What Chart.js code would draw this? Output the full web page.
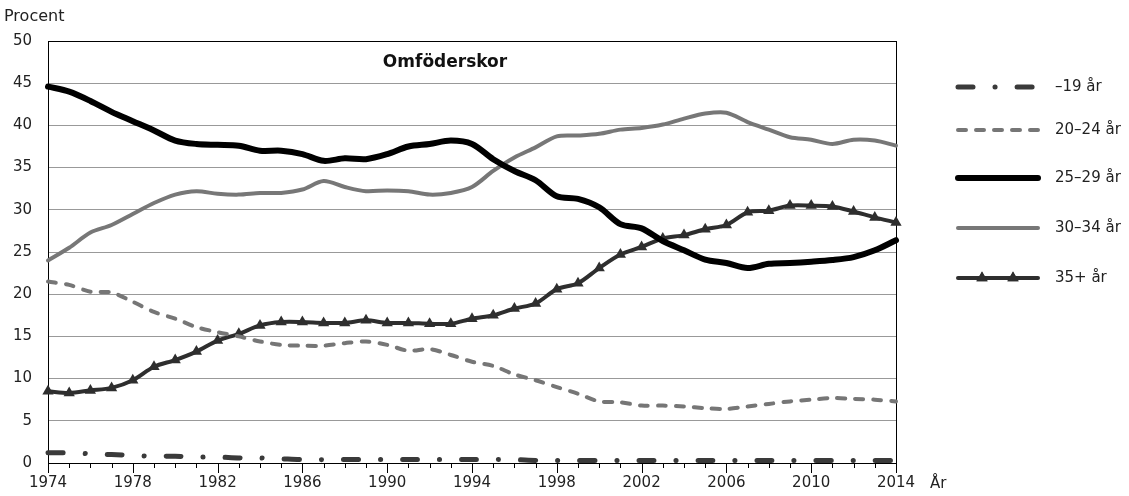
<!DOCTYPE html>
<html>
<head>
<meta charset="utf-8">
<script src="https://cdn.jsdelivr.net/npm/chart.js@4/dist/chart.umd.min.js"></script>
<style>
  html, body { margin: 0; padding: 0; background: #fff; }
</style>
</head>
<body>
<canvas id="chart" width="1129" height="496"></canvas>
<script>
// ---------------- DATA ----------------
const years = [
    "1974", "1975", "1976", "1977", "1978", "1979", "1980", "1981", "1982", "1983",
    "1984", "1985", "1986", "1987", "1988", "1989", "1990", "1991", "1992", "1993",
    "1994", "1995", "1996", "1997", "1998", "1999", "2000", "2001", "2002", "2003",
    "2004", "2005", "2006", "2007", "2008", "2009", "2010", "2011", "2012", "2013", "2014"
];

const under19 = [
    1.2, 1.2, 1.1, 1.0, 0.9, 0.8, 0.8, 0.7, 0.7, 0.6,
    0.6, 0.5, 0.4, 0.4, 0.4, 0.4, 0.4, 0.4, 0.4, 0.4,
    0.4, 0.4, 0.4, 0.3, 0.3, 0.3, 0.3, 0.3, 0.3, 0.3,
    0.3, 0.3, 0.3, 0.3, 0.3, 0.3, 0.3, 0.3, 0.3, 0.3, 0.3
];

const age20_24 = [
    21.5, 21.1, 20.3, 20.2, 19.1, 17.9, 17.1, 16.1, 15.5, 15.0,
    14.4, 14.0, 13.9, 13.9, 14.2, 14.4, 14.0, 13.3, 13.5, 12.8,
    12.0, 11.5, 10.5, 9.8, 9.0, 8.2, 7.3, 7.2, 6.8, 6.8,
    6.7, 6.5, 6.4, 6.7, 7.0, 7.3, 7.5, 7.7, 7.6, 7.5, 7.3
];

const age25_29 = [
    44.6, 44.0, 42.9, 41.6, 40.5, 39.4, 38.2, 37.8, 37.7, 37.6,
    37.0, 37.0, 36.6, 35.8, 36.1, 36.0, 36.6, 37.5, 37.8, 38.2,
    37.8, 36.0, 34.6, 33.5, 31.6, 31.3, 30.3, 28.3, 27.8, 26.3,
    25.2, 24.1, 23.7, 23.1, 23.6, 23.7, 23.85, 24.05, 24.4, 25.2, 26.4
];

const age30_34 = [
    24.0, 25.5, 27.3, 28.2, 29.5, 30.8, 31.8, 32.2, 31.9, 31.8,
    32.0, 32.0, 32.4, 33.4, 32.7, 32.2, 32.3, 32.2, 31.8, 32.0,
    32.7, 34.6, 36.2, 37.4, 38.7, 38.8, 39.0, 39.5, 39.7, 40.1,
    40.8, 41.4, 41.5, 40.4, 39.5, 38.6, 38.3, 37.8, 38.3, 38.2, 37.6
];

const age35plus = [
    8.5, 8.3, 8.6, 8.9, 9.8, 11.4, 12.2, 13.2, 14.5, 15.3,
    16.3, 16.7, 16.7, 16.6, 16.6, 16.9, 16.6, 16.6, 16.5, 16.5,
    17.1, 17.5, 18.3, 18.9, 20.6, 21.3, 23.1, 24.7, 25.6, 26.6,
    27.0, 27.7, 28.2, 29.7, 29.9, 30.5, 30.5, 30.4, 29.8, 29.1, 28.5
];

const seriesLabels = ["\u201319 år", "20\u201324 år", "25\u201329 år", "30\u201334 år", "35+ år"];
const yTicks = [0, 5, 10, 15, 20, 25, 30, 35, 40, 45, 50];

const FONT = "DejaVu Sans";

// ---------------- EXTRA DRAWING ----------------
const decorPlugin = {
    id: "decor",
    beforeDatasetsDraw(chart) {
        const { ctx, chartArea: a, scales } = chart;
        ctx.save();
        // frame
        ctx.strokeStyle = "#000";
        ctx.lineWidth = 1;
        ctx.strokeRect(a.left + 0.5, a.top + 0.5, a.right - a.left, a.bottom - a.top);
        // x tick marks, long ones at labelled years
        const x = scales.x;
        x.ticks.forEach((t, i) => {
            const px = Math.round(x.getPixelForTick(i)) + 0.5;
            const len = (i % 4 === 0) ? 10 : 5;
            ctx.beginPath();
            ctx.moveTo(px, a.bottom);
            ctx.lineTo(px, a.bottom + len);
            ctx.stroke();
        });
        ctx.restore();
    },
    afterDraw(chart) {
        const { ctx, chartArea: a } = chart;
        ctx.save();
        ctx.fillStyle = "#222";
        ctx.font = "16px '" + FONT + "'";
        ctx.textBaseline = "middle";
        ctx.textAlign = "left";
        ctx.fillText("Procent", 4, 17);
        ctx.font = "15px '" + FONT + "'";
        ctx.fillText("År", a.right + 34, 484);

        ctx.fillStyle = "#111";
        ctx.font = "bold 17px '" + FONT + "'";
        ctx.textAlign = "center";
        ctx.fillText("Omföderskor", 445, 63);

        // legend
        const rows = [87, 130, 178, 228, 278];
        const x0 = 958, x1 = 1038;
        chart.data.datasets.forEach((ds, i) => {
            const y = rows[i];
            ctx.save();
            ctx.strokeStyle = ds.borderColor;
            ctx.lineWidth = ds.borderWidth;
            ctx.lineCap = ds.borderCapStyle || "butt";
            ctx.setLineDash(ds.borderDash || []);
            ctx.beginPath();
            ctx.moveTo(x0, y);
            ctx.lineTo(x1, y);
            ctx.stroke();
            ctx.restore();
            if (ds.pointStyle === "triangle") {
                [982, 1013].forEach(px => {
                    ctx.save();
                    ctx.fillStyle = ds.pointBackgroundColor;
                    Chart.helpers.drawPoint(ctx, {
                        pointStyle: "triangle",
                        radius: ds.pointRadius,
                        rotation: 0,
                        borderWidth: 0
                    }, px, y);
                    ctx.fill();
                    ctx.restore();
                });
            }
            ctx.fillStyle = "#222";
            ctx.font = "15px '" + FONT + "'";
            ctx.textAlign = "left";
            ctx.textBaseline = "middle";
            ctx.fillText(seriesLabels[i], 1055, y);
        });
        ctx.restore();
    }
};

// ---------------- CHART ----------------
new Chart(document.getElementById("chart"), {
    type: "line",
    data: {
        labels: years,
        datasets: [
            {
                label: seriesLabels[0],
                data: under19,
                borderColor: "#3a3a3a",
                borderWidth: 5,
                borderDash: [15, 22, 0.1, 22],
                borderCapStyle: "round",
                pointRadius: 0,
                tension: 0.3,
                clip: false
            },
            {
                label: seriesLabels[1],
                data: age20_24,
                borderColor: "#767676",
                borderWidth: 4,
                borderDash: [8, 10],
                borderCapStyle: "round",
                pointRadius: 0,
                tension: 0.3,
                clip: false
            },
            {
                label: seriesLabels[2],
                data: age25_29,
                borderColor: "#000",
                borderWidth: 6,
                borderCapStyle: "round",
                pointRadius: 0,
                tension: 0.3,
                clip: false
            },
            {
                label: seriesLabels[3],
                data: age30_34,
                borderColor: "#777",
                borderWidth: 4,
                borderCapStyle: "round",
                pointRadius: 0,
                tension: 0.3,
                clip: false
            },
            {
                label: seriesLabels[4],
                data: age35plus,
                borderColor: "#2e2e2e",
                borderWidth: 4,
                borderCapStyle: "round",
                pointStyle: "triangle",
                pointRadius: 6.5,
                pointBackgroundColor: "#2e2e2e",
                pointBorderWidth: 0,
                tension: 0.3,
                clip: false
            }
        ]
    },
    options: {
        responsive: false,
        devicePixelRatio: 1,
        animation: false,
        layout: { padding: { left: 0, top: 41, right: 233, bottom: 0 } },
        plugins: {
            legend: { display: false },
            tooltip: { enabled: false }
        },
        scales: {
            x: {
                type: "category",
                offset: false,
                grid: { display: false, drawTicks: false },
                border: { display: false },
                ticks: {
                    autoSkip: false,
                    maxRotation: 0,
                    padding: 11,
                    color: "#222",
                    font: { family: FONT, size: 15 },
                    callback: function (v, i) { return i % 4 === 0 ? years[i] : ""; }
                },
                afterFit(scale) { scale.height = 33; }
            },
            y: {
                min: 0,
                max: 50,
                afterBuildTicks(scale) { scale.ticks = yTicks.map(v => ({ value: v })); },
                grid: {
                    drawTicks: false,
                    color: c => (c.tick.value === 0 || c.tick.value === 50) ? "rgba(0,0,0,0)" : "#999",
                    lineWidth: 1
                },
                border: { display: false },
                ticks: {
                    padding: 16,
                    color: "#222",
                    font: { family: FONT, size: 15 }
                },
                afterFit(scale) { scale.width = 48; }
            }
        }
    },
    plugins: [decorPlugin]
});
</script>
</body>
</html>
